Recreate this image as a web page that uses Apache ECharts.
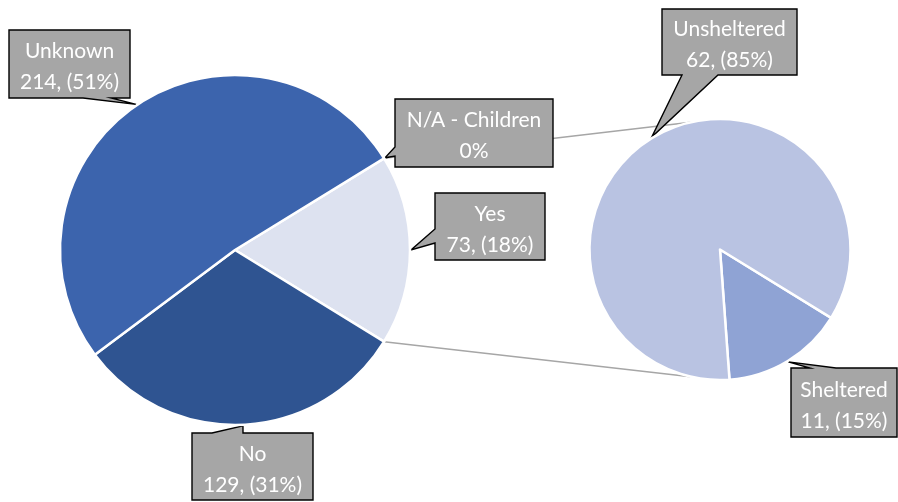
<!DOCTYPE html>
<html><head><meta charset="utf-8">
<script src="https://cdn.jsdelivr.net/npm/echarts@6/dist/echarts.min.js"></script>
<style>html,body{margin:0;padding:0;background:#fff}#c{width:898px;height:502px}</style>
</head><body><div id="c"></div>
<script>
// ---- data ----
const mainCategories = ['N/A - Children', 'Yes', 'No', 'Unknown'];
const mainValues = [0, 73, 129, 214];
const splitCategories = ['Sheltered', 'Unsheltered'];
const splitValues = [11, 62];

// ---- styles / layout ----
const mainColors = ['#3c64ad', '#dde2f0', '#2f5491', '#3c64ad'];
const splitColors = ['#8fa3d4', '#b9c3e2'];
const LEFT = { center: [235, 250], radius: 175 };
const RIGHT = { center: [720, 249.5], radius: 130.5 };
const BOX_FILL = '#a6a6a6';
const FONT = 'Lato, "Open Sans", sans-serif';
// callout boxes: [left, top, right, bottom], side where the pointer leaves, base span along that side
const callouts = {
  0: {
    0: { box: [395, 99, 553, 167], side: 'left', base: [147, 156] },
    1: { box: [435, 193, 545, 260], side: 'left', base: [229, 243] },
    2: { box: [192, 433, 313, 500], side: 'top', base: [212, 243] },
    3: { box: [9, 30, 130, 98], side: 'bottom', base: [83, 111] }
  },
  1: {
    0: { box: [791, 368, 897, 437], side: 'top', base: [810, 836] },
    1: { box: [662, 9, 797, 75], side: 'bottom', base: [682, 718] }
  }
};
const CONNECT_ANGLE = 103; // deg, where connector lines meet the second pie

const sum = mainValues.reduce((a, b) => a + b, 0);
const otherShare = mainValues[1] / sum;
const leftStart = otherShare * 180;

const chart = echarts.init(document.getElementById('c'));

const labelCommon = {
  show: true,
  position: 'outside',
  color: '#ffffff',
  fontFamily: FONT,
  fontSize: 21,
  lineHeight: 31,
  align: 'center',
  formatter: '{b}\n{c}, ({d}%)'
};

function labelLayout(p) {
  const c = callouts[p.seriesIndex][p.dataIndex];
  const b = c.box;
  return { x: (b[0] + b[2]) / 2, y: (b[1] + b[3]) / 2 + 3, align: 'center', verticalAlign: 'middle' };
}

const mainData = mainCategories.map((n, i) => {
  const d = { name: n, value: mainValues[i], itemStyle: { color: mainColors[i] } };
  if (mainValues[i] === 0) d.label = { formatter: '{b}\n{d}%' };
  return d;
});
const splitData = splitCategories.map((n, i) => ({ name: n, value: splitValues[i], itemStyle: { color: splitColors[i] } }));

chart.setOption({
  animation: false,
  series: [
    {
      type: 'pie', z: 2,
      center: LEFT.center, radius: LEFT.radius,
      startAngle: leftStart, clockwise: true,
      percentPrecision: 0,
      avoidLabelOverlap: false,
      itemStyle: { borderColor: '#ffffff', borderWidth: 2.5 },
      label: labelCommon, labelLine: { show: false },
      labelLayout: labelLayout,
      emphasis: { disabled: true },
      data: mainData
    },
    {
      type: 'pie', z: 2,
      center: RIGHT.center, radius: RIGHT.radius,
      startAngle: -leftStart, clockwise: true,
      percentPrecision: 0,
      avoidLabelOverlap: false,
      itemStyle: { borderColor: '#ffffff', borderWidth: 2.5 },
      label: labelCommon, labelLine: { show: false },
      labelLayout: labelLayout,
      emphasis: { disabled: true },
      data: splitData
    }
  ]
});

function itemLayout(si, di) {
  return chart.getModel().getSeriesByIndex(si).getData().getItemLayout(di);
}
function onEdge(lay, ang, extra) {
  const r = lay.r + (extra || 0);
  return [lay.cx + r * Math.cos(ang), lay.cy + r * Math.sin(ang)];
}

const graphics = [];
// connector lines from the "Yes" slice edges to the second pie
const yesLay = itemLayout(0, 1);
const rLay = itemLayout(1, 0);
const topA = -CONNECT_ANGLE * Math.PI / 180, botA = CONNECT_ANGLE * Math.PI / 180;
[[onEdge(yesLay, yesLay.startAngle), onEdge(rLay, topA)], [onEdge(yesLay, yesLay.endAngle), onEdge(rLay, botA)]].forEach(pts => {
  graphics.push({ type: 'polyline', z: 1, shape: { points: pts }, style: { stroke: '#a6a6a6', lineWidth: 1.5, fill: null }, silent: true });
});

// callout shapes
Object.keys(callouts).forEach(si => {
  Object.keys(callouts[si]).forEach(di => {
    const c = callouts[si][di];
    const lay = itemLayout(+si, +di);
    const tip = onEdge(lay, (lay.startAngle + lay.endAngle) / 2, 1);
    const [L, T, R, B] = c.box;
    const [a, b] = c.base;
    let pts;
    if (c.side === 'bottom') pts = [[L, T], [R, T], [R, B], [b, B], tip, [a, B], [L, B]];
    else if (c.side === 'top') pts = [[L, T], [a, T], tip, [b, T], [R, T], [R, B], [L, B]];
    else pts = [[L, T], [R, T], [R, B], [L, B], [L, b], tip, [L, a]];
    graphics.push({ type: 'polygon', z: 1, shape: { points: pts }, style: { fill: BOX_FILL, stroke: '#000000', lineWidth: 1.4, lineJoin: 'miter' }, silent: true });
  });
});

chart.setOption({ graphic: graphics });
</script>
</body></html>
